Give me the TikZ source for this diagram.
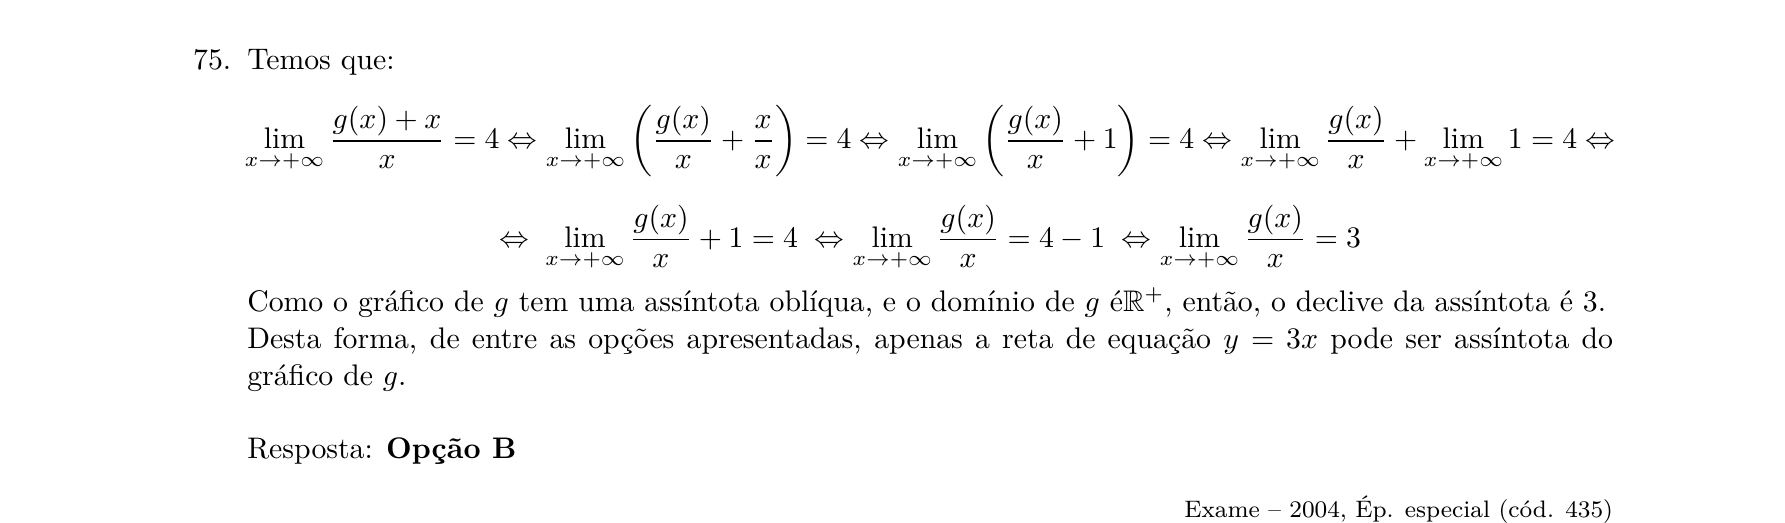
\documentclass[tikz,border=0pt]{standalone}
\usepackage{amsmath,amssymb}
\usepackage{fontspec}
\newlength\Lone
\newlength\unitpx
\newcommand{\lineone}{Como o gráfico de $g$ tem uma assíntota oblíqua, e o domínio de $g$ é$\mathbb{R}^+$, então, o declive da assíntota é 3.}
\newcommand{\limx}{\lim_{x\to+\infty}}
\tikzset{txt/.style={inner sep=0pt, outer sep=0pt}}
\AtBeginDocument{\settowidth\Lone{\normalfont\lineone}\setlength\unitpx{\dimexpr\Lone*2/2363\relax}}
\begin{document}
\begin{tikzpicture}[x=\unitpx,y=-\unitpx]
\useasboundingbox (0,0) rectangle (1552,454);
\node[txt,anchor=base west] (num) at (168,60) {75.};
\node[txt,anchor=base west] (intro) at (215,60) {Temos que:};
\node[txt,anchor=base] (eq1) at (808.75,129) {$\displaystyle \limx\frac{g(x)+x}{x}=4\Leftrightarrow \limx\left(\frac{g(x)}{x}+\frac{x}{x}\right)=4\Leftrightarrow \limx\left(\frac{g(x)}{x}+1\right)=4\Leftrightarrow \limx\frac{g(x)}{x}+\limx 1=4\Leftrightarrow$};
\node[txt,anchor=base] (eq2) at (808.75,215) {$\displaystyle \Leftrightarrow\;\limx\frac{g(x)}{x}+1=4\;\Leftrightarrow\limx\frac{g(x)}{x}=4-1\;\Leftrightarrow\limx\frac{g(x)}{x}=3$};
\node[txt,anchor=base west] (p1) at (215,271) {\lineone};
\node[txt,anchor=base west] (p2) at (215,303) {\hbox to 1187.5\unitpx{Desta forma, de entre as opções apresentadas, apenas a reta de equação $y=3x$ pode ser assíntota do}};
\node[txt,anchor=base west] (p3) at (215,335) {gráfico de $g$.};
\node[txt,anchor=base west] (resp) at (215,399) {Resposta: \textbf{Opção B}};
\node[txt,anchor=base east,font=\footnotesize] (src) at (1402.5,450) {Exame -- 2004, Ép. especial (cód. 435)};
\end{tikzpicture}
\end{document}
